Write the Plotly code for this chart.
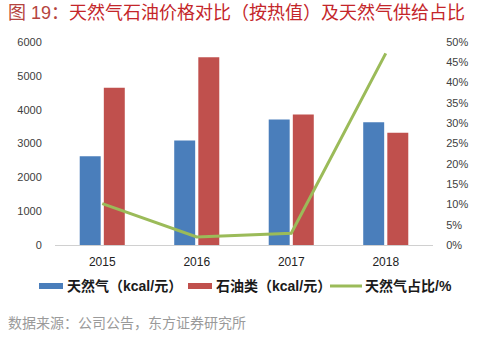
import plotly.graph_objects as go

years = ["2015", "2016", "2017", "2018"]
gas_kcal = [2620, 3090, 3710, 3630]
oil_kcal = [4650, 5550, 3860, 3320]
gas_share = [10.2, 2.0, 2.9, 47.2]

left_ticks = [0, 1000, 2000, 3000, 4000, 5000, 6000]
right_ticks = [0, 5, 10, 15, 20, 25, 30, 35, 40, 45, 50]
right_labels = [f"{v}%" for v in right_ticks]

series_names = ["天然气（kcal/元）", "石油类（kcal/元）", "天然气占比/%"]
colors = ["#4a7ebb", "#c0504d", "#9bbb59"]

FONT = "Liberation Sans, Arial, Noto Sans CJK SC, sans-serif"
CJK = "Noto Sans CJK SC, sans-serif"

W, H = 479, 339
L, R, T, B = 55, 46, 42, 94
PW, PH = W - L - R, H - T - B


def px(x):
    return (x - L) / PW


def py(y):
    return (H - B - y) / PH


fig = go.Figure()
fig.add_trace(go.Bar(x=years, y=gas_kcal, name=series_names[0],
                     marker=dict(color=colors[0], line=dict(width=0))))
fig.add_trace(go.Bar(x=years, y=oil_kcal, name=series_names[1],
                     marker=dict(color=colors[1], line=dict(width=0))))
fig.add_trace(go.Scatter(x=years, y=gas_share, name=series_names[2], yaxis="y2",
                         mode="lines", line=dict(color=colors[2], width=3)))

shapes = [
    dict(type="rect", xref="paper", yref="paper", x0=px(39), x1=px(63), y0=py(289), y1=py(283),
         fillcolor=colors[0], line=dict(width=0)),
    dict(type="rect", xref="paper", yref="paper", x0=px(188), x1=px(212), y0=py(289), y1=py(283),
         fillcolor=colors[1], line=dict(width=0)),
    dict(type="line", xref="paper", yref="paper", x0=px(330), x1=px(362), y0=py(286), y1=py(286),
         line=dict(color=colors[2], width=3)),
]

annotations = [
    dict(text="<span style='color:#b5443e'>图 19：</span>天然气石油价格对比（按热值）及天然气供给占比",
         x=px(6), y=py(13),
         xref="paper", yref="paper", showarrow=False, xanchor="left", yanchor="middle",
         font=dict(size=18, color="#c4262a", family=FONT)),
    dict(text="数据来源：公司公告，东方证券研究所", x=px(6), y=py(322),
         xref="paper", yref="paper", showarrow=False, xanchor="left", yanchor="middle",
         font=dict(size=14, color="#9a9a9a", family=CJK)),
]
for xs, name in zip([65, 214, 363], series_names):
    annotations.append(dict(text=f"<b>{name}</b>", x=px(xs), y=py(286), xref="paper", yref="paper",
                            showarrow=False, xanchor="left", yanchor="middle",
                            font=dict(size=14, color="#1a1a1a", family=FONT)))

fig.update_layout(
    width=W, height=H,
    margin=dict(l=L, r=R, t=T, b=B),
    paper_bgcolor="white", plot_bgcolor="white",
    barmode="group", bargap=0.49, bargroupgap=0.13,
    font=dict(family=FONT, size=11, color="#404040"),
    showlegend=False,
    xaxis=dict(showline=True, linecolor="#d0d0d0", linewidth=1, ticks="outside", ticklen=6,
               tickcolor="rgba(0,0,0,0)", tickfont=dict(size=12, color="#222222"), showgrid=False),
    yaxis=dict(range=[0, 6000], tickvals=left_ticks, showgrid=False, zeroline=False,
               showline=False, ticks="outside", ticklen=10, tickcolor="rgba(0,0,0,0)",
               tickfont=dict(size=11, color="#404040")),
    yaxis2=dict(range=[0, 50], tickvals=right_ticks, ticktext=right_labels, overlaying="y",
                side="right", showgrid=False, zeroline=False, showline=False,
                ticks="outside", ticklen=10, tickcolor="rgba(0,0,0,0)",
                tickfont=dict(size=11, color="#404040")),
    shapes=shapes,
    annotations=annotations,
)

fig.write_html("out.html")
